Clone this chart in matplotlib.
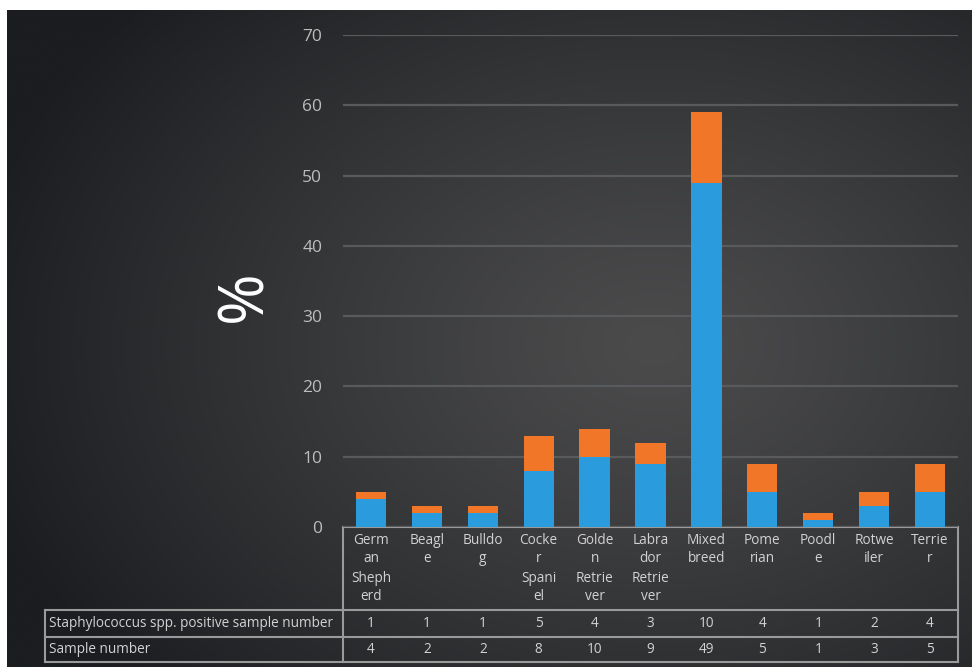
import numpy as np
import matplotlib
matplotlib.use("Agg")
import matplotlib.pyplot as plt

categories = ["Germ\nan\nSheph\nerd", "Beagl\ne", "Bulldo\ng", "Cocke\nr\nSpani\nel",
              "Golde\nn\nRetrie\nver", "Labra\ndor\nRetrie\nver", "Mixed\nbreed",
              "Pome\nrian", "Poodl\ne", "Rotwe\niler", "Terrie\nr"]
positive = [1, 1, 1, 5, 4, 3, 10, 4, 1, 2, 4]
samples = [4, 2, 2, 8, 10, 9, 49, 5, 1, 3, 5]
row_labels = ["Staphylococcus spp. positive sample number", "Sample number"]
yticks = [0, 10, 20, 30, 40, 50, 60, 70]

W, H = 972, 667
plt.rcParams['font.family'] = ['Open Sans', 'DejaVu Sans']
fig = plt.figure(figsize=(W / 100, H / 100), dpi=100)
fig.patch.set_facecolor("white")

# background gradient (pixel coords)
bg = fig.add_axes([0, 0, 1, 1])
bg.set_xlim(0, W)
bg.set_ylim(H, 0)
bg.axis("off")
yy, xx = np.mgrid[0:H, 0:W]
r = np.sqrt(((xx - 650) / 700.0) ** 2 + ((yy - 340) / 520.0) ** 2)
t = np.clip(r, 0, 1) ** 1.2
c0 = np.array([0x4b, 0x4b, 0x4c]) / 255
c1 = np.array([0x1b, 0x1d, 0x20]) / 255
img = c0[None, None, :] * (1 - t[..., None]) + c1[None, None, :] * t[..., None]
bg.imshow(img, extent=(7, W, H, 10), aspect="auto", zorder=0)

# main axes
x0, x1 = 343, 958
y70, y0 = 35, 527
ax = fig.add_axes([x0 / W, 1 - y0 / H, (x1 - x0) / W, (y0 - y70) / H])
ax.set_facecolor("none")
n = len(categories)
x = np.arange(n)
ax.bar(x, samples, width=0.54, color="#2a9cdd", zorder=3)
ax.bar(x, positive, bottom=samples, width=0.54, color="#f17628", zorder=3)
ax.set_xlim(-0.5, n - 0.5)
ax.set_ylim(0, 70)
ax.set_yticks(yticks)
ax.set_yticklabels([str(v) for v in yticks], color="#bdbdbd", fontsize=12.5)
ax.tick_params(axis="y", length=0, pad=15)
ax.tick_params(axis="x", length=0, labelbottom=False)
ax.grid(axis="y", color="#585a5c", linewidth=1.6, zorder=1)
for s in ax.spines.values():
    s.set_visible(False)

# y label "%"
bg.text(245, 296, "%", rotation=90, ha="center", va="center", color="white",
        fontsize=45, fontweight="medium")

# table in pixel coords on bg axes
lc = "#9a9a9a"
colw = (x1 - x0) / n
cx = [x0 + (i + 0.5) * colw for i in range(n)]
tl = 45
r1, r2, r3 = 610, 637, 662
lw = 1.5
bg.plot([x0, x1], [y0, y0], color=lc, lw=lw, zorder=2)
bg.plot([x0, x0], [y0, r3], color=lc, lw=lw, zorder=2)
bg.plot([x1, x1], [y0, r3], color=lc, lw=lw, zorder=2)
for ry in (r1, r2, r3):
    bg.plot([tl, x1], [ry, ry], color=lc, lw=lw, zorder=2)
bg.plot([tl, tl], [r1, r3], color=lc, lw=lw, zorder=2)
tc = "#d2d2d2"
fs = 9.8
for i, lab in enumerate(categories):
    for j, line in enumerate(lab.split("\n")):
        bg.text(cx[i], 540 + j * 19, line, ha="center", va="center", color=tc, fontsize=fs)
bg.text(tl + 4, (r1 + r2) / 2, row_labels[0], ha="left", va="center", color=tc, fontsize=fs)
bg.text(tl + 4, (r2 + r3) / 2, row_labels[1], ha="left", va="center", color=tc, fontsize=fs)
for i in range(n):
    bg.text(cx[i], (r1 + r2) / 2, str(positive[i]), ha="center", va="center", color=tc, fontsize=fs)
    bg.text(cx[i], (r2 + r3) / 2, str(samples[i]), ha="center", va="center", color=tc, fontsize=fs)

fig.savefig("out.png", dpi=100, facecolor=fig.get_facecolor())
